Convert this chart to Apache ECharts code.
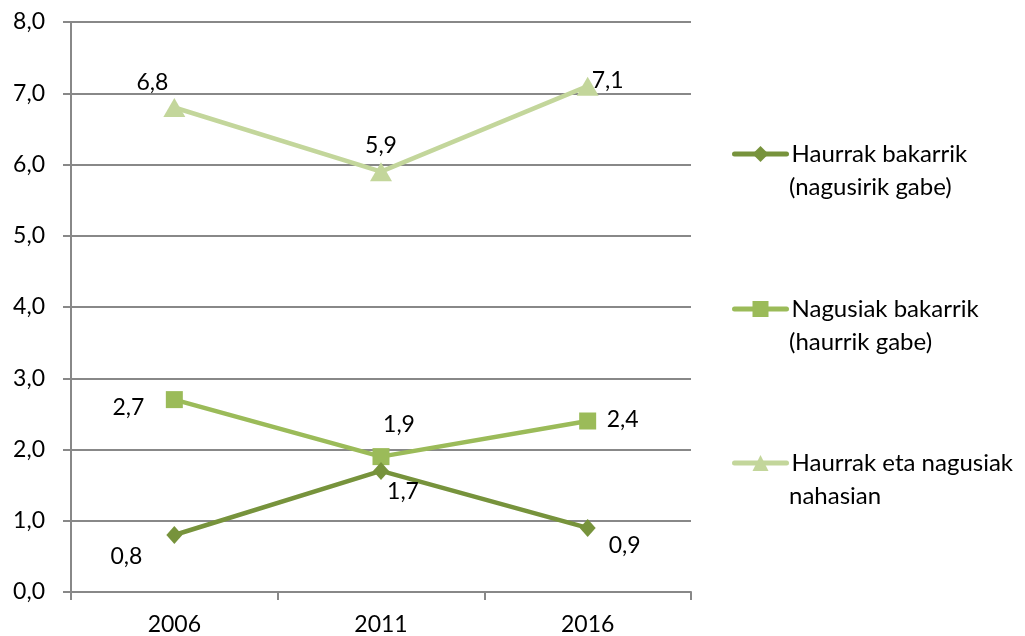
<!DOCTYPE html>
<html>
<head>
<meta charset="UTF-8">
<script src="https://cdn.jsdelivr.net/npm/echarts@6/dist/echarts.min.js"></script>
<style>
  html, body { margin: 0; padding: 0; background: #fff; }
  #main { width: 1025px; height: 636px; }
</style>
</head>
<body>
<div id="main"></div>
<script>
var years = ['2006', '2011', '2016'];
var seriesNames = ['Haurrak bakarrik', 'Nagusiak bakarrik', 'Haurrak eta nagusiak'];
var secondLines = ['(nagusirik gabe)', '(haurrik gabe)', 'nahasian'];
var haurrakBakarrik = [0.8, 1.7, 0.9];
var nagusiakBakarrik = [2.7, 1.9, 2.4];
var nahasian = [6.8, 5.9, 7.1];
var yTicks = [0, 1, 2, 3, 4, 5, 6, 7, 8];

var colors = ['#77933C', '#9BBB59', '#C3D69B'];
var symbols = ['diamond', 'rect', 'triangle'];
var symbolSizes = [[16, 18], 17, [22, 19]];
// label offsets per point [dx, dy]
var labelOffsets = [
    [[-48, 22], [22, 21], [37, 18]],
    [[-46, 8], [18, -32], [35, -1]],
    [[-22, -25], [0, -26], [20, -6]]
];
var allValues = [haurrakBakarrik, nagusiakBakarrik, nahasian];
var FONT = 'Lato';

var fmt = function (v) { return v.toFixed(1).replace('.', ','); };

var chart = echarts.init(document.getElementById('main'));

var series = allValues.map(function (vals, s) {
    return {
        name: seriesNames[s],
        type: 'line',
        data: vals.map(function (v, i) {
            return {
                value: v,
                label: { offset: labelOffsets[s][i] }
            };
        }),
        symbol: symbols[s],
        symbolSize: symbolSizes[s],
        lineStyle: { width: 4.5, color: colors[s] },
        itemStyle: { color: colors[s] },
        label: {
            show: true,
            position: 'inside',
            color: '#000',
            fontSize: 23,
            fontFamily: FONT,
            formatter: function (p) { return fmt(p.value); }
        },
        z: 3 - s
    };
});

var legendTops = [142, 297, 451];
var legends = seriesNames.map(function (n, s) {
    return {
        data: [n],
        left: 732,
        top: legendTops[s],
        padding: 0,
        itemWidth: 52,
        itemHeight: 20,
        itemGap: 0,
        selectedMode: false,
        lineStyle: { width: 5, cap: 'round' },
        textStyle: {
            fontSize: 24,
            fontFamily: FONT,
            color: '#000'
        }
    };
});

var graphics = secondLines.map(function (t, s) {
    return {
        type: 'text',
        left: 789,
        top: legendTops[s] + 33,
        style: { text: t, fontSize: 24, fontFamily: FONT, fill: '#000' }
    };
});

chart.setOption({
    animation: false,
    color: colors,
    legend: legends,
    graphic: graphics,
    grid: { left: 71, right: 334, top: 22, bottom: 44 },
    xAxis: {
        type: 'category',
        data: years,
        boundaryGap: true,
        axisLine: { lineStyle: { color: '#888', width: 2 } },
        axisTick: { show: true, length: 8, lineStyle: { color: '#888', width: 2 } },
        axisLabel: { color: '#000', fontSize: 23, fontFamily: FONT, margin: 21 }
    },
    yAxis: {
        type: 'value',
        min: yTicks[0],
        max: yTicks[yTicks.length - 1],
        interval: 1,
        axisLine: { show: true, lineStyle: { color: '#888', width: 2 } },
        axisTick: { show: true, length: 8, lineStyle: { color: '#888', width: 2 } },
        splitLine: { lineStyle: { color: '#888', width: 2 } },
        axisLabel: {
            color: '#000', fontSize: 23, fontFamily: FONT, margin: 26,
            formatter: function (v) { return fmt(v); }
        }
    },
    series: series
});
</script>
</body>
</html>
